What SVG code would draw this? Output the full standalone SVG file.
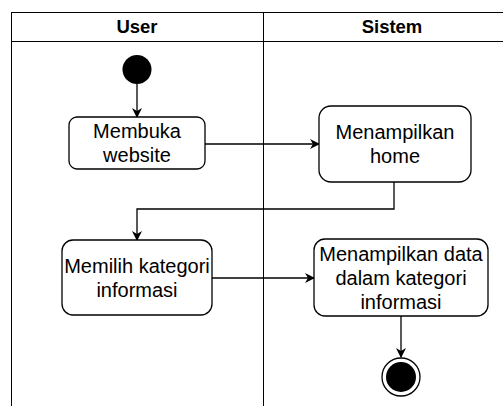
<svg xmlns="http://www.w3.org/2000/svg" width="503" height="406" viewBox="0 0 503 406">
<style>
.lane{fill:none;stroke:#000;stroke-width:1}
.box{fill:#fff;stroke:#000;stroke-width:1.3}
.t{font-family:"Liberation Sans",Arial,sans-serif;font-size:20px;fill:#000;text-anchor:middle}
.h{font-family:"Liberation Sans",Arial,sans-serif;font-size:18.5px;font-weight:bold;fill:#000;text-anchor:middle}
.c{fill:none;stroke:#000;stroke-width:1.3}
</style>
<defs>
<marker id="arr" viewBox="0 0 10 10" refX="9" refY="5" markerWidth="10" markerHeight="10" markerUnits="userSpaceOnUse" orient="auto">
<path d="M0,0 L10,5 L0,10 L3,5 Z" fill="#000"/>
</marker>
</defs>
<rect width="503" height="406" fill="#fff"/>
<g id="lanes">
<rect class="lane" x="11.5" y="12.5" width="510" height="400"/>
<line class="lane" x1="11" y1="41.5" x2="521" y2="41.5"/>
<line class="lane" x1="263.5" y1="12" x2="263.5" y2="412"/>
<text class="h" x="137" y="33">User</text>
<text class="h" x="392" y="33">Sistem</text>
</g>
<g id="connectors">
<line class="c" x1="137" y1="84" x2="137" y2="117" marker-end="url(#arr)"/>
<line class="c" x1="205" y1="144" x2="319" y2="144" marker-end="url(#arr)"/>
<polyline class="c" points="394,182 394,209 137,209 137,240" marker-end="url(#arr)"/>
<line class="c" x1="212" y1="278" x2="314" y2="278" marker-end="url(#arr)"/>
<line class="c" x1="401" y1="316" x2="401" y2="357" marker-end="url(#arr)"/>
</g>
<g id="start">
<circle cx="137" cy="69.5" r="14.5" fill="#000"/>
</g>
<g id="membuka">
<rect class="box" x="69" y="117" width="136" height="52" rx="8"/>
<text class="t" x="137" y="138">Membuka</text>
<text class="t" x="137" y="162">website</text>
</g>
<g id="home">
<rect class="box" x="319" y="106" width="152" height="76" rx="12"/>
<text class="t" x="395" y="139">Menampilkan</text>
<text class="t" x="395" y="163">home</text>
</g>
<g id="memilih">
<rect class="box" x="62" y="240" width="150" height="75" rx="11"/>
<text class="t" x="137" y="272.5">Memilih kategori</text>
<text class="t" x="137" y="296.5">informasi</text>
</g>
<g id="data">
<rect class="box" x="314" y="239" width="174" height="77" rx="11"/>
<text class="t" x="401" y="260.5">Menampilkan data</text>
<text class="t" x="401" y="284.5">dalam kategori</text>
<text class="t" x="401" y="308.5">informasi</text>
</g>
<g id="end">
<circle cx="401" cy="377" r="19" fill="#fff" stroke="#000" stroke-width="1.3"/>
<circle cx="401" cy="377" r="15" fill="#000"/>
</g>
</svg>
